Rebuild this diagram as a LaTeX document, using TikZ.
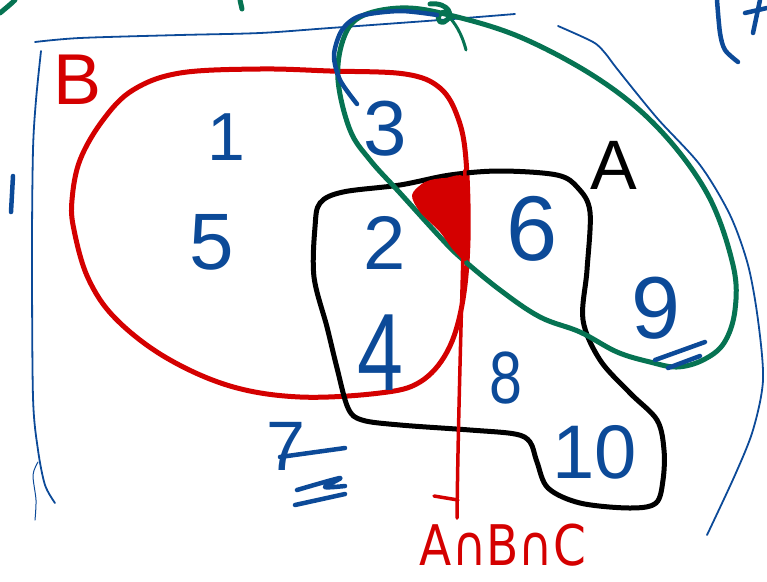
\documentclass[tikz,border=0pt]{standalone}
\usepackage{fontspec}
\setmainfont{Liberation Sans}
\newfontfamily\labelfont{DejaVu Sans}
\definecolor{penred}{RGB}{212,0,0}
\definecolor{penblue}{RGB}{12,74,152}
\definecolor{pengreen}{RGB}{6,115,82}
\tikzset{
  redpen/.style={draw=penred, line width=5pt, line cap=round, line join=round},
  blackpen/.style={draw=black, line width=5pt, line cap=round, line join=round},
  greenpen/.style={draw=pengreen, line width=5pt, line cap=round, line join=round},
  bluepen/.style={draw=penblue, line width=4.5pt, line cap=round, line join=round},
  bluethin/.style={draw=penblue, line width=1.8pt, line cap=round, line join=round},
  num/.style={text=penblue, inner sep=0pt},
  fs/.style={font=\fontsize{#1}{#1}\selectfont}
}
\begin{document}
\begin{tikzpicture}[x=1pt,y=-1pt]
\useasboundingbox (0,0) rectangle (767,581);
% universe (blue, thin)
\draw[bluethin] plot[smooth] coordinates {(515,14) (440,20) (330,28) (260,33) (180,35) (80,38) (35,42)};
\draw[bluethin] plot[smooth] coordinates {(41,51) (36,100) (33,150) (32,250) (33,397) (38,450) (45,485) (55,503)};
\draw[bluethin, line width=1pt] plot[smooth] coordinates {(38,462) (33,475) (36,500) (35,520)};
\draw[bluethin] plot[smooth] coordinates {(558,26) (593,42) (605,53) (618,70) (657,118) (700,165) (730,215) (748,265) (758,320) (763,380) (753,430) (735,475) (707,535)};
\draw[bluepen] (13,176) -- (11,212);
% partial marks at the top edge
\draw[bluepen] plot[smooth] coordinates {(717,0) (720,33) (725,50) (738,62)};
\draw[bluepen] (760,0) -- (753,33);
\draw[bluepen] (745,13) -- (767,8);
\draw[greenpen] (0,13) .. controls (6,8) and (11,4) .. (15,0);
\draw[greenpen] (240,0) -- (242,9);
% set B (red)
\draw[redpen] plot[smooth cycle, tension=0.6] coordinates {(180,73) (260,69) (330,71) (405,74) (440,88) (458,118) (466,160) (468,240) (462,305) (447,352) (420,382) (380,393) (300,397) (230,386) (165,357) (115,318) (88,278) (74,230) (72,200) (80,160) (103,120) (133,90)};
% set A (black)
\draw[blackpen] plot[smooth cycle, tension=0.55] coordinates {(320,203) (343,192) (400,185) (450,175) (500,171) (557,175) (578,188) (590,212) (587,270) (583,320) (600,360) (630,393) (657,420) (664,450) (663,480) (656,503) (630,508) (580,503) (548,488) (537,462) (530,442) (515,434) (470,430) (400,425) (362,420) (348,408) (337,368) (327,327) (314,277) (315,227)};
% set C (green)
\draw[greenpen] plot[smooth cycle, tension=0.6] coordinates {(400,8) (445,14) (520,37) (600,80) (660,130) (708,195) (733,265) (735,310) (724,343) (703,360) (677,367) (650,362) (617,352) (580,332) (540,317) (500,290) (460,257) (440,237) (400,193) (370,160) (350,130) (338,80) (343,40) (360,17)};
\draw[greenpen] (430,4) .. controls (448,2) and (456,16) .. (444,22) .. controls (436,24) and (436,12) .. (446,12);
\draw[greenpen, line width=3pt] (446,14) .. controls (455,22) and (462,34) .. (466,50);
% hatched intersection
\fill[penred] plot[smooth cycle, tension=0.5] coordinates {(412,195) (425,182) (445,178) (467,181) (468,257) (455,252) (440,232) (420,212)};
% blue tail of the 3
\draw[bluepen] plot[smooth] coordinates {(437,15) (400,11) (360,16) (342,30) (334,55) (340,80) (357,104)};
% labels
\node[num, fs=68] (n1) at (226,137) {1};
\node[num, fs=80] (n5) at (212,242) {5};
\node[num, fs=78] (n3) at (385,129) {3};
\node[num, fs=76] (n2) at (385,243) {2};
\node[num, fs=110, xscale=0.75] (n4) at (380,353) {4};
\node[num, fs=92] (n6) at (532,229) {6};
\node[num, fs=88] (n9) at (656,308) {9};
\node[num, fs=74, xscale=0.8] (n8) at (506,378) {8};
\node[num, fs=76] (n10) at (595,452) {10};
\node[num, fs=70] (n7) at (286,446) {7};
\node[text=penred, inner sep=0pt, fs=72] (lB) at (78,80) {B};
\node[text=black, inner sep=0pt, fs=70] (lA) at (614,165) {A};
\node[text=penred, inner sep=0pt, font=\labelfont\fontsize{56}{56}\selectfont, xscale=0.84] (lABC) at (503,545) {A∩B∩C};
% marks under 7 and 9
\draw[bluepen] (280,457) -- (345,448);
\draw[bluepen] plot[smooth] coordinates {(297,490) (340,478) (325,487) (345,486)};
\draw[bluepen] (295,505) -- (345,494);
\draw[bluepen] (655,360) -- (705,342);
\draw[bluepen] (668,368) -- (700,356);
% arrow from the intersection to the label
\coordinate (arrtop) at (465,170);
\coordinate (arrend) at (457,518);
\draw[redpen, line width=3.5pt] (arrtop) .. controls (462,300) and (458,420) .. (arrend);
\draw[redpen, line width=3.5pt] (434,496) -- (458,500);
\end{tikzpicture}
\end{document}
